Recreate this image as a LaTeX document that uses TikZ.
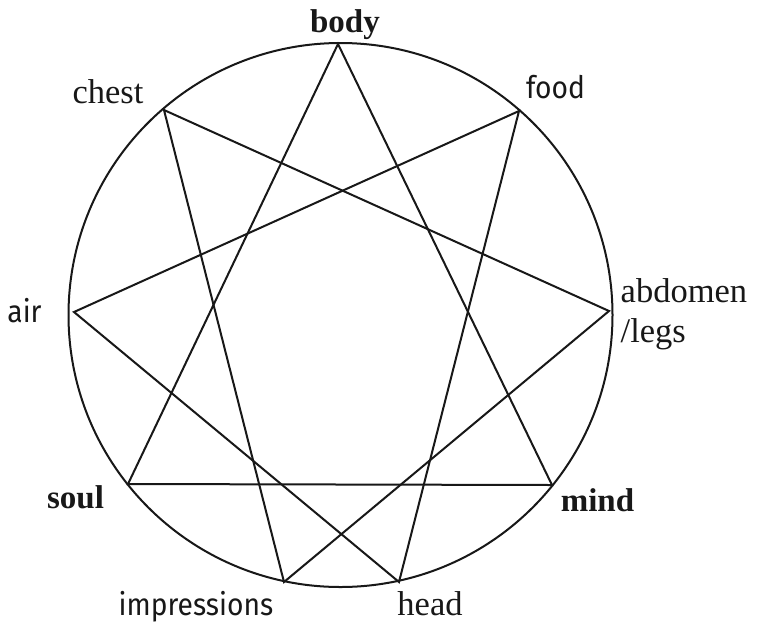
\documentclass[tikz,border=0pt]{standalone}
\usepackage{fontspec}
\setmainfont{Liberation Serif}
\newfontfamily\labelsans[FakeStretch=0.91]{Fira Sans}
\usetikzlibrary{positioning}
\definecolor{ink}{RGB}{24,24,24}
\definecolor{paper}{RGB}{255,255,255}
\tikzset{
  ring/.style={draw=ink, line width=2pt},
  chord/.style={draw=ink, line width=2pt, line join=miter},
  serifLabel/.style={font=\fontsize{34.5}{36}\selectfont, text=ink, inner sep=0pt, anchor=base},
  boldLabel/.style={serifLabel, font=\fontsize{33}{36}\selectfont\bfseries},
  sansLabel/.style={font=\labelsans\fontsize{31}{33}\selectfont, text=ink, inner sep=0pt, anchor=base}
}

\begin{document}
\begin{tikzpicture}[x=1pt,y=-1pt]

% Background
\useasboundingbox (0,0) rectangle (758,625);
\fill[paper] (0,0) rectangle (758,625);

% Circle
\coordinate (centre) at (340.5,315);
\draw[ring] (centre) circle[radius=272];

% Points on the circle
\coordinate (body) at (338,44);
\coordinate (food) at (519,111);
\coordinate (abdomen) at (609,311);
\coordinate (mind) at (552,485);
\coordinate (head) at (399,582);
\coordinate (impressions) at (284,582);
\coordinate (soul) at (128,484);
\coordinate (air) at (74,312);
\coordinate (chest) at (164,110);

% Three triangles
\draw[chord] (body) -- (mind) -- (soul) -- cycle;
\draw[chord] (chest) -- (abdomen) -- (impressions) -- cycle;
\draw[chord] (food) -- (head) -- (air) -- cycle;

% Labels
\node[boldLabel] (bodyLabel) at (345,32) {body};
\node[serifLabel] (chestLabel) at (108,103) {chest};
\node[sansLabel] (foodLabel) at (555.5,98) {food};
\node[sansLabel] (airLabel) at (24.5,322) {air};
\node[serifLabel, anchor=base west] (abdomenLabel) at (620.5,302) {abdomen};
\node[serifLabel, anchor=base west] (legsLabel) at (620.5,342) {/legs};
\node[boldLabel] (soulLabel) at (75.5,508) {soul};
\node[boldLabel] (mindLabel) at (597.5,511) {mind};
\node[sansLabel] (impressionsLabel) at (196,615) {impressions};
\node[serifLabel] (headLabel) at (430,615) {head};

\end{tikzpicture}
\end{document}
